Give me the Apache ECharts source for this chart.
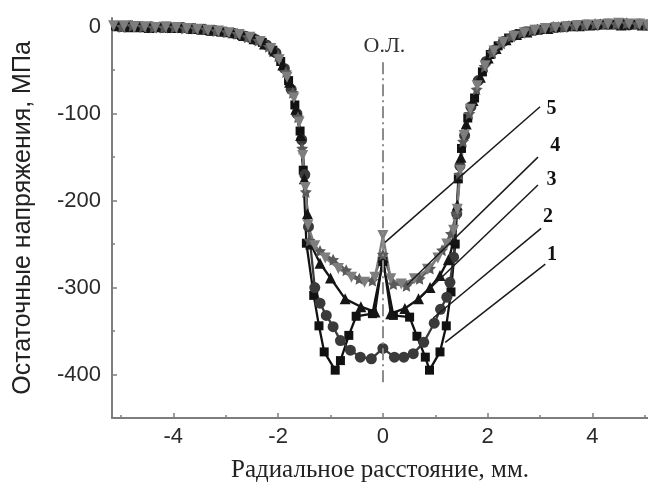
<!DOCTYPE html>
<html><head><meta charset="utf-8">
<script src="https://cdn.jsdelivr.net/npm/echarts@6/dist/echarts.min.js"></script>
<style>html,body{margin:0;padding:0;background:#fff}#c{width:648px;height:486px}</style>
</head><body><div id="c"></div>
<script>
// ---- data ----
const s1x = [-5.10,-4.90,-4.70,-4.50,-4.30,-4.10,-3.90,-3.70,-3.50,-3.30,-3.10,-2.90,-2.70,-2.50,-2.30,-2.10,-1.95,-1.80,-1.68,-1.58,-1.52,-1.46,-1.32,-1.22,-1.12,-0.91,-0.81,-0.65,-0.51,-0.20,0.00,0.20,0.51,0.65,0.81,0.89,1.09,1.21,1.30,1.38,1.44,1.50,1.62,1.75,1.90,2.05,2.20,2.40,2.60,2.80,3.00,3.20,3.40,3.60,3.80,4.00,4.20,4.40,4.60,4.80,5.00];
const s1y = [1,0,1,-1,0,-1,-2,-2,-3,-5,-6,-7,-10,-13,-18,-27,-40,-62,-90,-120,-165,-249,-309,-344,-374,-395,-384,-355,-333,-330,-270,-332,-334,-356,-380,-395,-374,-344,-305,-250,-175,-140,-105,-82,-52,-32,-22,-13,-8,-5,-3,-1,0,1,2,2,3,3,4,3,2];
const s2x = [-5.02,-4.82,-4.62,-4.42,-4.22,-4.02,-3.82,-3.62,-3.42,-3.22,-3.02,-2.82,-2.62,-2.42,-2.22,-2.04,-1.88,-1.75,-1.64,-1.55,-1.49,-1.42,-1.30,-1.20,-1.08,-0.95,-0.81,-0.62,-0.43,-0.22,0.00,0.22,0.40,0.58,0.78,0.98,1.10,1.22,1.28,1.35,1.41,1.47,1.56,1.68,1.82,1.97,2.12,2.30,2.50,2.70,2.90,3.10,3.30,3.50,3.70,3.90,4.10,4.30,4.50,4.70,4.90,5.05];
const s2y = [0,1,0,0,-1,-1,-1,-2,-3,-4,-6,-8,-11,-15,-21,-30,-48,-72,-100,-130,-170,-230,-300,-318,-332,-345,-361,-372,-380,-382,-370,-380,-380,-376,-363,-341,-325,-311,-294,-265,-215,-160,-125,-92,-62,-40,-27,-17,-10,-6,-4,-2,-1,0,1,2,2,3,3,2,3,2];
const s3x = [-5.06,-4.86,-4.66,-4.46,-4.26,-4.06,-3.86,-3.66,-3.46,-3.26,-3.06,-2.86,-2.66,-2.46,-2.26,-2.07,-1.91,-1.78,-1.66,-1.57,-1.50,-1.44,-1.38,-1.20,-1.00,-0.72,-0.42,-0.15,0.00,0.15,0.42,0.68,0.90,1.09,1.25,1.36,1.42,1.49,1.59,1.72,1.86,2.01,2.16,2.35,2.55,2.75,2.95,3.15,3.35,3.55,3.75,3.95,4.15,4.35,4.55,4.75,4.95];
const s3y = [1,0,0,-1,0,-1,-1,-2,-3,-4,-5,-7,-10,-14,-20,-28,-44,-64,-95,-125,-175,-215,-250,-272,-289,-313,-322,-328,-265,-330,-324,-313,-300,-286,-268,-245,-205,-150,-112,-85,-58,-36,-25,-15,-9,-6,-3,-2,0,1,1,2,3,3,2,3,2];
const s4x = [-4.98,-4.78,-4.58,-4.38,-4.18,-3.98,-3.78,-3.58,-3.38,-3.18,-2.98,-2.78,-2.58,-2.38,-2.18,-2.00,-1.85,-1.72,-1.62,-1.54,-1.47,-1.40,-1.20,-0.95,-0.70,-0.45,-0.20,0.00,0.20,0.45,0.70,0.90,1.13,1.30,1.40,1.46,1.53,1.65,1.79,1.94,2.09,2.26,2.45,2.65,2.85,3.05,3.25,3.45,3.65,3.85,4.05,4.25,4.45,4.65,4.85,5.03];
const s4y = [0,1,0,-1,-1,-1,-2,-2,-3,-5,-6,-8,-12,-16,-23,-34,-52,-76,-104,-140,-190,-246,-258,-268,-280,-290,-292,-262,-296,-298,-290,-278,-257,-238,-215,-170,-132,-100,-72,-46,-30,-19,-11,-7,-4,-2,0,0,1,2,3,3,3,4,3,2];
const s5x = [-5.14,-4.94,-4.74,-4.54,-4.34,-4.14,-3.94,-3.74,-3.54,-3.34,-3.14,-2.94,-2.74,-2.54,-2.34,-2.14,-1.98,-1.83,-1.70,-1.60,-1.53,-1.48,-1.43,-1.30,-1.10,-0.85,-0.60,-0.35,-0.15,0.00,0.15,0.35,0.60,0.85,1.05,1.22,1.35,1.42,1.48,1.55,1.67,1.80,1.95,2.12,2.30,2.50,2.70,2.90,3.10,3.30,3.50,3.70,3.90,4.10,4.30,4.50,4.70,4.90,5.05];
const s5y = [1,1,0,0,-1,0,-1,-2,-3,-4,-5,-7,-9,-12,-17,-25,-38,-58,-82,-110,-148,-185,-228,-252,-266,-278,-288,-294,-288,-240,-290,-296,-290,-279,-266,-250,-234,-210,-165,-125,-95,-68,-45,-28,-18,-11,-7,-4,-2,-1,0,1,2,2,3,4,3,3,2];

const xMajorTicks = [-4,-2,0,2,4];
const xMinorTicks = [-5,-3,-1,1,3,5];
const yMajorTicks = [0,-100,-200,-300,-400];
const yMinorTicks = [-50,-150,-250,-350];
const curveNames = ['1','2','3','4','5'];
const xTitle = 'Радиальное расстояние, мм.';
const yTitle = 'Остаточные напряжения, МПа';
const axisMarkLabel = 'О.Л.';

// callout leader lines (start on curve, end near label) and label anchors, data units
const leaderStart = [[1.19,-363],[0.96,-335],[0.71,-312],[0.46,-297],[0.04,-248]];
const leaderEnd   = [[3.10,-273],[3.02,-232],[2.96,-182],[2.96,-150],[3.00,-92]];
const labelAt     = [[3.23,-262],[3.15,-219],[3.22,-176],[3.29,-137],[3.22,-95]];

const zip = (xs, ys) => xs.map((x, i) => [x, ys[i]]);

const starPath = 'path://M0,-10L2.9,-4L9.5,-3.1L4.7,1.5L5.9,8.1L0,5L-5.9,8.1L-4.7,1.5L-9.5,-3.1L-2.9,-4Z';

const chart = echarts.init(document.getElementById('c'), null, {renderer: 'canvas'});

const axisGray = '#7d7d7d';
const txt = '#2a2a2a';

const leaderData = leaderStart.map((s, i) => [
  {coord: s, symbol: 'none'},
  {coord: leaderEnd[i], symbol: 'none'}
]);
leaderData.push([
  {coord: [0, -41], symbol: 'none', lineStyle: {type: [12, 4, 2, 4], color: '#8c8c8c', width: 2}},
  {coord: [0, -413], symbol: 'none'}
]);

const labelPoints = labelAt.map((p, i) => ({
  coord: p, value: curveNames[i],
  label: {show: true, formatter: curveNames[i], position: 'inside', fontFamily: 'Liberation Serif', fontWeight: 'bold', fontSize: 20, color: '#111'}
}));
labelPoints.push({
  coord: [0.03, -23], value: axisMarkLabel,
  label: {show: true, formatter: axisMarkLabel, position: 'inside', fontFamily: 'Liberation Serif', fontSize: 22, color: '#333'}
});

function mk(name, xs, ys, symbol, color, size, extra) {
  return Object.assign({
    name, type: 'line', xAxisIndex: 0, yAxisIndex: 0,
    data: zip(xs, ys), symbol, symbolSize: size, showAllSymbol: true,
    lineStyle: {color, width: 2.3}, itemStyle: {color},
    animation: false, clip: true
  }, extra || {});
}

const option = {
  animation: false,
  backgroundColor: '#fff',
  grid: {left: 112, right: 0, top: 18, bottom: 68, outerBoundsMode: 'none', containLabel: false},
  xAxis: [
    {type: 'value', min: -5.17, max: 5.06, position: 'bottom',
     axisLine: {show: true, onZero: false, lineStyle: {color: axisGray, width: 2}},
     axisTick: {show: true, inside: true, length: 5, customValues: xMajorTicks, lineStyle: {color: axisGray, width: 1.5}},
     axisLabel: {show: true, customValues: xMajorTicks, fontSize: 22, color: txt, margin: 8, fontFamily: 'Liberation Sans'},
     splitLine: {show: false},
     name: xTitle, nameLocation: 'middle', nameGap: 40,
     nameTextStyle: {fontFamily: 'Liberation Serif', fontSize: 25, color: '#222'}},
    {type: 'value', min: -5.17, max: 5.06, position: 'bottom',
     axisLine: {show: false, onZero: false},
     axisTick: {show: true, inside: true, length: 3, customValues: xMinorTicks, lineStyle: {color: axisGray, width: 1.5}},
     axisLabel: {show: false}, splitLine: {show: false}}
  ],
  yAxis: [
    {type: 'value', min: -450, max: 10, position: 'left',
     axisLine: {show: true, onZero: false, lineStyle: {color: axisGray, width: 2}},
     axisTick: {show: true, inside: true, length: 5, customValues: yMajorTicks, lineStyle: {color: axisGray, width: 1.5}},
     axisLabel: {show: true, customValues: yMajorTicks, fontSize: 22, color: txt, margin: 11, fontFamily: 'Liberation Sans'},
     splitLine: {show: false},
     name: yTitle, nameLocation: 'middle', nameGap: 76, nameRotate: 90,
     nameTextStyle: {fontFamily: 'Liberation Sans', fontSize: 25, color: '#222'}},
    {type: 'value', min: -450, max: 10, position: 'left',
     axisLine: {show: false, onZero: false},
     axisTick: {show: true, inside: true, length: 3, customValues: yMinorTicks, lineStyle: {color: axisGray, width: 1.5}},
     axisLabel: {show: false}, splitLine: {show: false}}
  ],
  series: [
    mk(curveNames[0], s1x, s1y, 'rect', '#111111', 9, {
      markLine: {silent: true, symbol: 'none', animation: false,
        lineStyle: {color: '#1a1a1a', width: 1.5, type: 'solid'},
        label: {show: false}, data: leaderData},
      markPoint: {silent: true, symbol: 'circle', symbolSize: 1, itemStyle: {color: 'rgba(0,0,0,0)'}, animation: false, data: labelPoints}
    }),
    mk(curveNames[1], s2x, s2y, 'circle', '#3a3a3a', 11),
    mk(curveNames[2], s3x, s3y, 'triangle', '#151515', 11),
    mk(curveNames[3], s4x, s4y, starPath, '#5a5a5a', 12),
    mk(curveNames[4], s5x, s5y, 'triangle', '#7e7e7e', 11, {symbolRotate: 180})
  ]
};
chart.setOption(option);
</script>
</body></html>
